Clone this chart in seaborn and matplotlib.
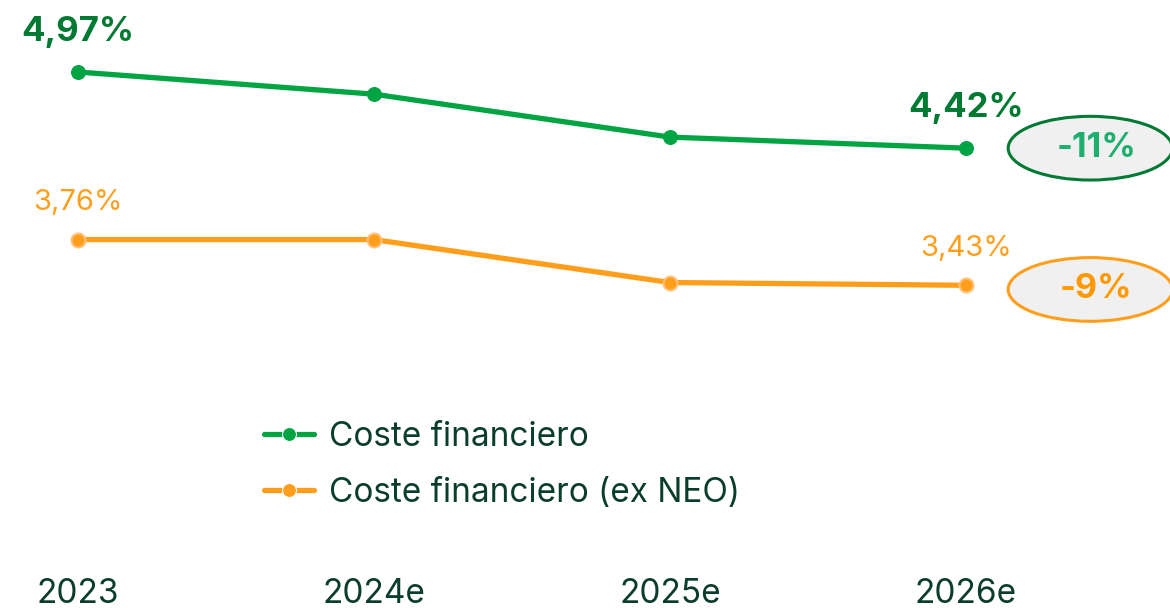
import matplotlib
matplotlib.use("Agg")
import matplotlib.pyplot as plt
from matplotlib.patches import Ellipse
import pandas as pd
import seaborn as sns

sns.set_style("white")
plt.rcParams["font.family"] = ["Inter", "DejaVu Sans"]

# data
years = ["2023", "2024e", "2025e", "2026e"]
coste = [4.97, 4.81, 4.50, 4.42]
coste_ex_neo = [3.76, 3.76, 3.45, 3.43]
changes = ["-11%", "-9%"]

GREEN = "#00A443"
DARK_GREEN = "#007A33"
ORANGE = "#FF9E1B"
TEXT = "#0B3D2E"

df = pd.DataFrame({
    "x": list(range(len(years))) * 2,
    "valor": coste + coste_ex_neo,
    "serie": ["Coste financiero"] * 4 + ["Coste financiero (ex NEO)"] * 4,
})

fig = plt.figure(figsize=(11.7, 6.08), dpi=100)
ax = fig.add_axes([0, 33 / 608, 1, 575 / 608])

sns.lineplot(data=df, x="x", y="valor", hue="serie",
             palette=[GREEN, ORANGE], marker="o", markersize=10,
             linewidth=3.8, ax=ax)
# lighter rim on the orange markers
ax.lines[1].set_markeredgecolor("#FFC078")
ax.lines[1].set_markeredgewidth(1.5)
ax.lines[0].set_markeredgecolor(GREEN)

ax.set_xlim(-78 / 296, (1170 - 78) / 296)
ax.set_ylim(4.97 - 503 / 138.5, 4.97 + 72 / 138.5)

ax.set_xticks(range(len(years)))
ax.set_xticklabels(years, fontsize=24, color=TEXT)
ax.tick_params(axis="x", length=0, pad=2)
ax.set_yticks([])
ax.set_xlabel("")
ax.set_ylabel("")
for s in ax.spines.values():
    s.set_visible(False)

def fmt(v):
    return f"{v:.2f}%".replace(".", ",")

# value labels on first and last points
for i in (0, 3):
    ax.annotate(fmt(coste[i]), (i, coste[i]), xytext=(0, 40),
                textcoords="offset pixels", ha="center", va="center",
                fontsize=25, fontweight="bold", color=DARK_GREEN)
    ax.annotate(fmt(coste_ex_neo[i]), (i, coste_ex_neo[i]), xytext=(0, 37),
                textcoords="offset pixels", ha="center", va="center",
                fontsize=21, color=ORANGE)

# change bubbles
bubbles = [(coste[-1], DARK_GREEN, "#1DAF6E"), (coste_ex_neo[-1] - 0.03, ORANGE, "#FF9900")]
for (yv, edge, tc), lab in zip(bubbles, changes):
    ax.add_patch(Ellipse((3.42, yv), 0.555, 0.46, facecolor="#F0F0F0",
                         edgecolor=edge, linewidth=2.2, clip_on=False))
    ax.text(3.44, yv, lab, ha="center", va="center", fontsize=24.5,
            fontweight="bold", color=tc)

leg = ax.legend(loc="upper left", bbox_to_anchor=(234 / 1170, 1 - 391 / 608),
                bbox_transform=fig.transFigure, frameon=False, fontsize=24,
                handlelength=1.5, handletextpad=0.45, labelspacing=0.72)
for t in leg.get_texts():
    t.set_color(TEXT)

fig.savefig("out.png", dpi=100)
